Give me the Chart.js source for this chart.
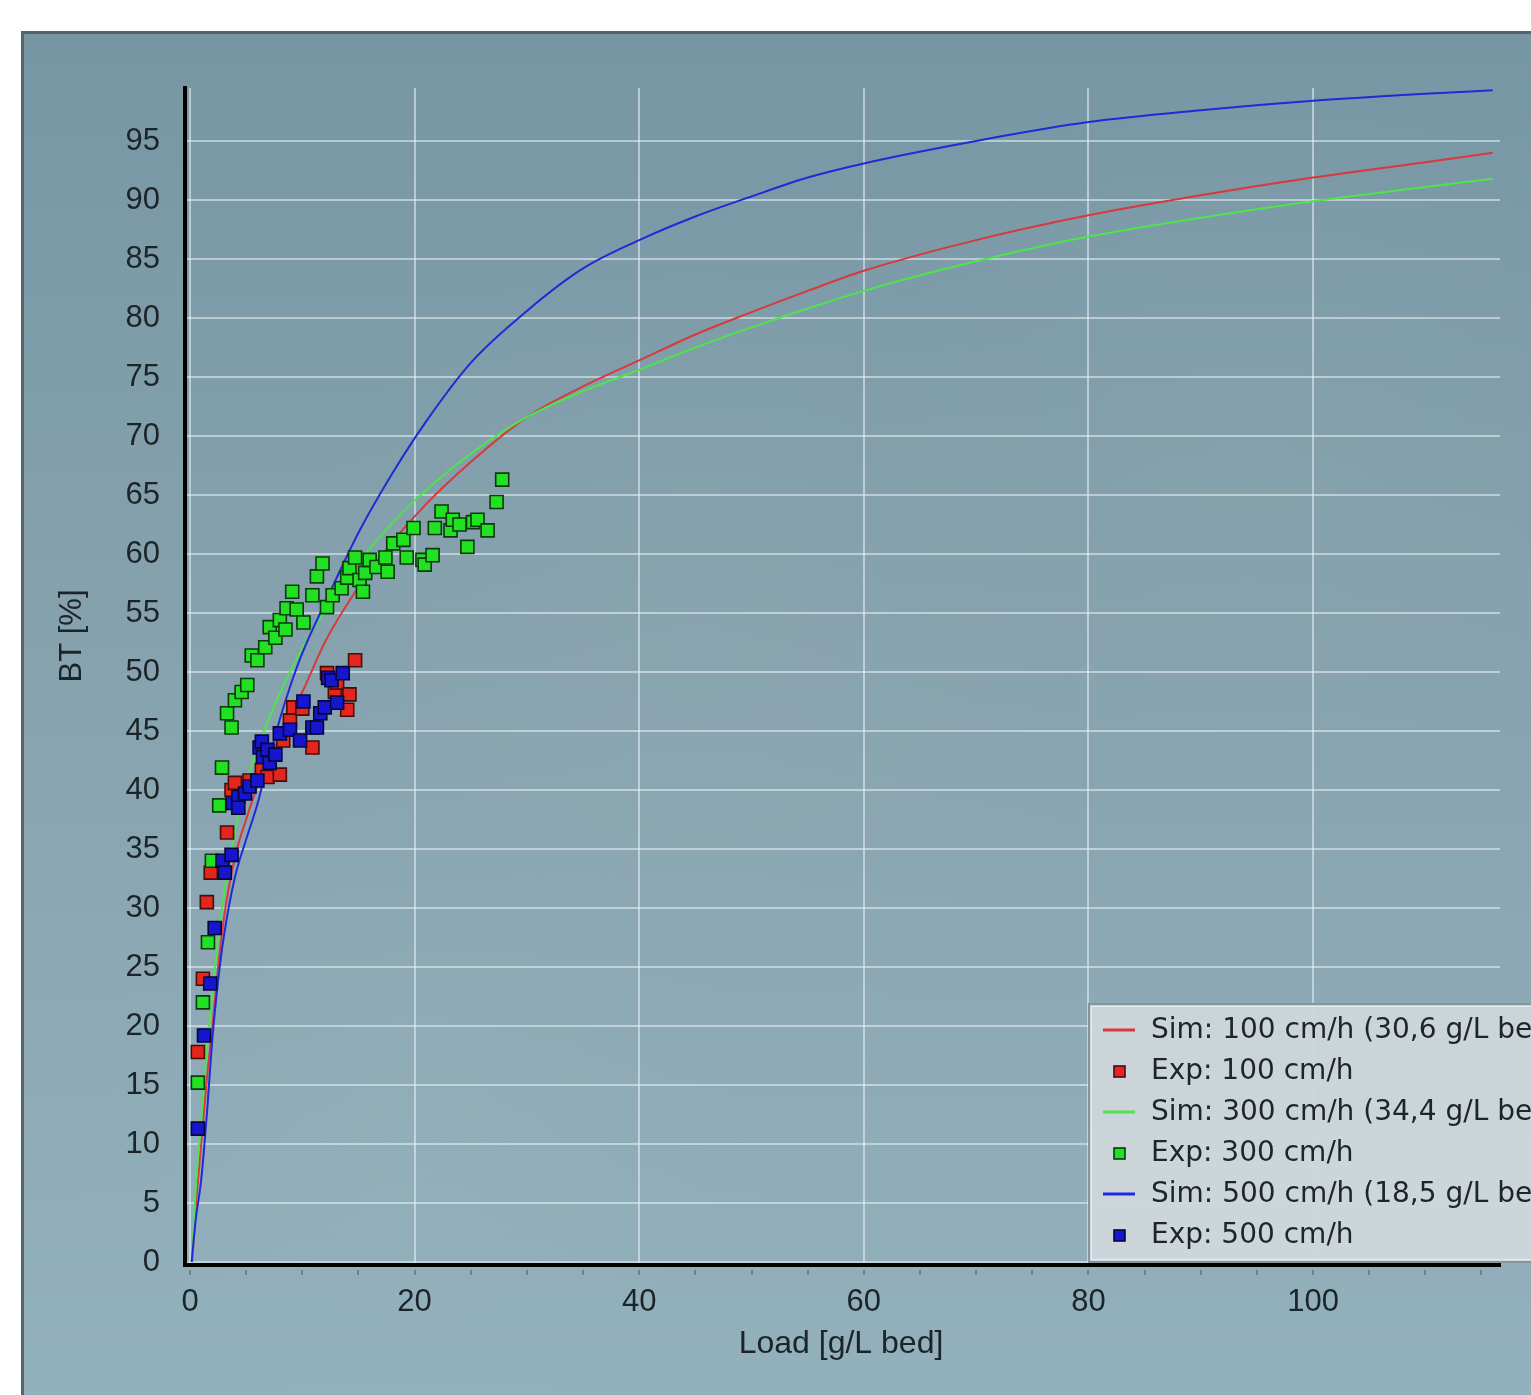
<!DOCTYPE html>
<html><head><meta charset="utf-8">
<script src="https://cdn.jsdelivr.net/npm/chart.js@4/dist/chart.umd.min.js"></script>
<style>html,body{margin:0;padding:0;background:#fff;overflow:hidden}canvas{display:block}</style>
</head><body><canvas id="c" width="1531" height="1395"></canvas>
<script>
// ---------- data ----------
const xTickValues = [0, 20, 40, 60, 80, 100];
const yTickValues = [0, 5, 10, 15, 20, 25, 30, 35, 40, 45, 50, 55, 60, 65, 70, 75, 80, 85, 90, 95];
const xMinorTicks = [0, 5, 10, 15, 20, 25, 30, 35, 40, 45, 50, 55, 60, 65, 70, 75, 80, 85, 90, 95, 100, 105, 110, 115];
const xTitle = "Load [g/L bed]";
const yTitle = "BT [%]";
const seriesLabels = ["Sim: 100 cm/h (30,6 g/L bed)", "Exp: 100 cm/h", "Sim: 300 cm/h (34,4 g/L bed)", "Exp: 300 cm/h", "Sim: 500 cm/h (18,5 g/L bed)", "Exp: 500 cm/h"];

const sim100X = [0.2, 0.5, 1, 1.5, 2, 2.5, 3, 4, 5, 6, 7, 8, 9, 10, 12, 15, 18, 21, 25, 30, 35, 40, 45, 50, 55, 60, 70, 80, 90, 100, 110, 116];
const sim100Y = [0, 4.5, 10, 15.5, 20, 25, 29, 34.3, 37.5, 40.3, 42.5, 44.5, 46.5, 48.3, 52.5, 57.2, 61, 64.2, 67.8, 71.6, 74.2, 76.4, 78.6, 80.5, 82.3, 84.0, 86.6, 88.7, 90.4, 91.9, 93.2, 94.0];

const sim300X = [0.2, 0.5, 1, 1.5, 2, 3, 4, 5, 6, 7, 8, 10, 12, 15, 18, 21, 25, 30, 35, 40, 45, 50, 55, 60, 70, 80, 90, 100, 110, 116];
const sim300Y = [0, 6, 12, 18, 23, 31, 36.5, 40.5, 43.5, 46, 48.2, 52, 55.2, 59.3, 62.6, 65.4, 68.5, 71.6, 73.8, 75.6, 77.5, 79.2, 80.8, 82.3, 84.8, 86.9, 88.5, 89.9, 91.1, 91.8];

const sim500X = [0.15, 0.5, 1, 1.5, 2, 2.5, 3, 4, 5, 6, 7, 8, 9, 10, 12, 15, 18, 21, 25, 30, 35, 40, 45, 50, 55, 60, 70, 80, 90, 100, 110, 116];
const sim500Y = [0, 3.5, 7, 12.5, 19, 23.8, 27.5, 32.6, 35.8, 38.8, 42.5, 46, 49, 51.6, 55.8, 61.8, 66.8, 71.2, 76.2, 80.6, 84.2, 86.6, 88.6, 90.3, 91.9, 93.1, 95.0, 96.6, 97.6, 98.4, 99.0, 99.3];

const exp100X = [0.7, 1.15, 1.5, 1.85, 3.3, 3.7, 4.0, 5.3, 6.4, 6.9, 8.0, 8.3, 8.9, 9.2, 10.0, 10.9, 12.2, 12.9, 13.1, 14.0, 14.2, 14.7];
const exp100Y = [17.8, 24.0, 30.5, 33.0, 36.4, 40.0, 40.6, 40.8, 41.7, 41.1, 41.3, 44.2, 45.9, 47.0, 46.9, 43.6, 49.9, 48.3, 49.1, 46.8, 48.1, 51.0];

const exp300X = [0.7, 1.15, 1.6, 1.95, 2.6, 2.85, 3.3, 3.7, 4.0, 4.6, 5.1, 5.5, 6.0, 6.7, 7.1, 7.6, 8.0, 8.5, 8.6, 9.1, 9.5, 10.1, 10.9, 11.3, 11.8, 12.2, 12.7, 13.5, 14.0, 14.2, 14.7, 15.1, 15.4, 15.6, 16.0, 16.6, 17.4, 17.6, 18.1, 19.0, 19.3, 19.9, 20.7, 20.9, 21.6, 21.8, 22.4, 23.2, 23.4, 24.0, 24.7, 25.2, 25.6, 26.5, 27.3, 27.8];
const exp300Y = [15.2, 22.0, 27.1, 34.0, 38.7, 41.9, 46.5, 45.3, 47.6, 48.3, 48.9, 51.4, 51.0, 52.1, 53.8, 52.9, 54.4, 53.6, 55.4, 56.8, 55.3, 54.2, 56.5, 58.1, 59.2, 55.5, 56.5, 57.1, 58.0, 58.8, 59.7, 57.8, 56.8, 58.4, 59.5, 58.9, 59.7, 58.5, 60.9, 61.2, 59.7, 62.2, 59.5, 59.1, 59.9, 62.2, 63.6, 62.0, 62.9, 62.5, 60.6, 62.7, 62.9, 62.0, 64.4, 66.3];

const exp500X = [0.7, 1.25, 1.8, 2.2, 2.9, 3.1, 3.7, 3.8, 4.3, 4.3, 4.9, 5.3, 6.0, 6.2, 6.4, 6.5, 6.9, 7.1, 7.6, 8.0, 8.9, 9.8, 10.1, 10.9, 11.3, 11.6, 12.0, 12.3, 12.6, 13.1, 13.6];
const exp500Y = [11.3, 19.2, 23.6, 28.3, 34.0, 33.0, 34.5, 38.9, 39.4, 38.5, 39.7, 40.3, 40.8, 43.6, 44.1, 42.8, 43.4, 42.3, 43.0, 44.8, 45.1, 44.2, 47.5, 45.3, 45.3, 46.5, 47.0, 49.5, 49.3, 47.4, 49.9];

const pts = (xs, ys) => xs.map((x, i) => ({x: x, y: ys[i]}));

// ---------- styles ----------
const FONT = '"Liberation Sans", Arial, sans-serif';
const LEG_FONT = '"DejaVu Sans", "Liberation Sans", sans-serif';
const TXT = '#1b2428';

const lineDs = (label, xs, ys, color, order) => ({
  type: 'line', label, data: pts(xs, ys), borderColor: color, backgroundColor: color,
  borderWidth: 2, pointRadius: 0, fill: false, cubicInterpolationMode: 'monotone', order, showLine: true
});
const ptDs = (label, xs, ys, fill, stroke, order) => ({
  type: 'scatter', label, data: pts(xs, ys), showLine: false,
  pointStyle: 'rect', pointRadius: 9.2, pointBorderWidth: 1.6,
  pointBackgroundColor: fill, pointBorderColor: stroke,
  backgroundColor: fill, borderColor: stroke, order
});

const datasets = [
  lineDs(seriesLabels[0], sim100X, sim100Y, '#d8393a', 6),
  ptDs(seriesLabels[1], exp100X, exp100Y, '#e5261f', '#4a0c06', 3),
  lineDs(seriesLabels[2], sim300X, sim300Y, '#4de44d', 5),
  ptDs(seriesLabels[3], exp300X, exp300Y, '#22e022', '#0b3a0b', 2),
  lineDs(seriesLabels[4], sim500X, sim500Y, '#1e2bd6', 4),
  ptDs(seriesLabels[5], exp500X, exp500Y, '#1616cf', '#06063a', 1)
];

// ---------- plugins ----------
const bgPlugin = {
  id: 'bg',
  beforeDraw(chart) {
    const ctx = chart.ctx;
    ctx.save();
    ctx.fillStyle = '#ffffff';
    ctx.fillRect(0, 0, chart.width, chart.height);
    const g = ctx.createLinearGradient(0, 32, 0, chart.height);
    g.addColorStop(0, '#7796a4');
    g.addColorStop(0.45, '#86a2ae');
    g.addColorStop(1, '#93b1bd');
    ctx.fillStyle = g;
    ctx.fillRect(22, 32, chart.width - 22, chart.height - 32);
    const blobs = [[700, 650, 420, 'rgba(150,175,185,0.18)'], [1250, 450, 380, 'rgba(150,175,185,0.15)'], [420, 1150, 350, 'rgba(160,190,200,0.15)']];
    blobs.forEach(b => {
      const r = ctx.createRadialGradient(b[0], b[1], 0, b[0], b[1], b[2]);
      r.addColorStop(0, b[3]); r.addColorStop(1, 'rgba(150,175,185,0)');
      ctx.fillStyle = r; ctx.fillRect(22, 32, chart.width - 22, chart.height - 32);
    });
    ctx.fillStyle = '#56646a';
    ctx.fillRect(21, 31, chart.width - 21, 3);
    ctx.fillRect(21, 31, 3, chart.height - 31);
    ctx.restore();
  }
};

const decoPlugin = {
  id: 'deco',
  afterDraw(chart) {
    const ctx = chart.ctx;
    const xs = chart.scales.x;
    const ca = chart.chartArea;
    ctx.save();
    ctx.strokeStyle = 'rgba(95,110,115,0.7)';
    ctx.lineWidth = 2;
    xMinorTicks.forEach(v => {
      const px = Math.round(xs.getPixelForValue(v));
      ctx.beginPath(); ctx.moveTo(px, ca.bottom + 5); ctx.lineTo(px, ca.bottom + 10); ctx.stroke();
    });
    ctx.fillStyle = TXT;
    ctx.font = '32px ' + FONT;
    ctx.textAlign = 'center';
    ctx.textBaseline = 'middle';
    ctx.fillText(xTitle, 841, 1344);
    ctx.save();
    ctx.translate(72, 636);
    ctx.rotate(-Math.PI / 2);
    ctx.font = '31px ' + FONT;
    ctx.fillText(yTitle, 0, 0);
    ctx.restore();

    const bx = 1088, by = 1003, bw = 700, bh = 260;
    ctx.fillStyle = 'rgba(205,214,218,0.97)';
    ctx.fillRect(bx, by, bw, bh);
    ctx.strokeStyle = '#8595a0';
    ctx.lineWidth = 2;
    ctx.strokeRect(bx + 1, by + 1, bw, bh - 2);
    ctx.strokeStyle = 'rgba(235,240,242,0.8)';
    ctx.lineWidth = 1;
    ctx.strokeRect(bx + 3.5, by + 3.5, bw, bh - 7);
    ctx.font = '28px ' + LEG_FONT;
    ctx.textAlign = 'left';
    ctx.textBaseline = 'middle';
    chart.data.datasets.forEach((ds, i) => {
      const cy = 1030 + i * 41;
      if (ds.type === 'line') {
        ctx.strokeStyle = ds.borderColor;
        ctx.lineWidth = 3;
        ctx.beginPath(); ctx.moveTo(1103, cy); ctx.lineTo(1135, cy); ctx.stroke();
      } else {
        ctx.fillStyle = ds.pointBackgroundColor;
        ctx.strokeStyle = ds.pointBorderColor;
        ctx.lineWidth = 1.6;
        ctx.fillRect(1114, cy - 5, 11, 11);
        ctx.strokeRect(1114, cy - 5, 11, 11);
      }
      ctx.fillStyle = '#1e2528';
      ctx.fillText(ds.label, 1151, cy + 1);
    });
    ctx.restore();
  }
};

// ---------- chart ----------
new Chart(document.getElementById('c'), {
  data: { datasets },
  plugins: [bgPlugin, decoPlugin],
  options: {
    responsive: false,
    animation: false,
    devicePixelRatio: 1,
    layout: { padding: { left: 0, top: 88, right: 31, bottom: 0 } },
    plugins: { legend: { display: false }, tooltip: { enabled: false } },
    scales: {
      x: {
        type: 'linear', position: 'bottom',
        min: -0.445, max: 116.65,
        afterFit(s) { s.height = 130; },
        afterBuildTicks(s) { s.ticks = xTickValues.map(v => ({ value: v })); },
        grid: { color: 'rgba(235,242,245,0.55)', lineWidth: 2, drawTicks: false },
        border: { color: '#000', width: 4 },
        ticks: { font: { family: FONT, size: 31 }, color: TXT, padding: 19, maxRotation: 0, autoSkip: false }
      },
      y: {
        type: 'linear', position: 'left',
        min: -0.254, max: 99.49,
        afterFit(s) { s.width = 185; },
        afterBuildTicks(s) { s.ticks = yTickValues.map(v => ({ value: v })); },
        grid: { color: 'rgba(235,242,245,0.55)', lineWidth: 2, drawTicks: false },
        border: { color: '#000', width: 4 },
        ticks: { font: { family: FONT, size: 31 }, color: TXT, padding: 25, autoSkip: false }
      }
    }
  }
});
</script>
</body></html>
